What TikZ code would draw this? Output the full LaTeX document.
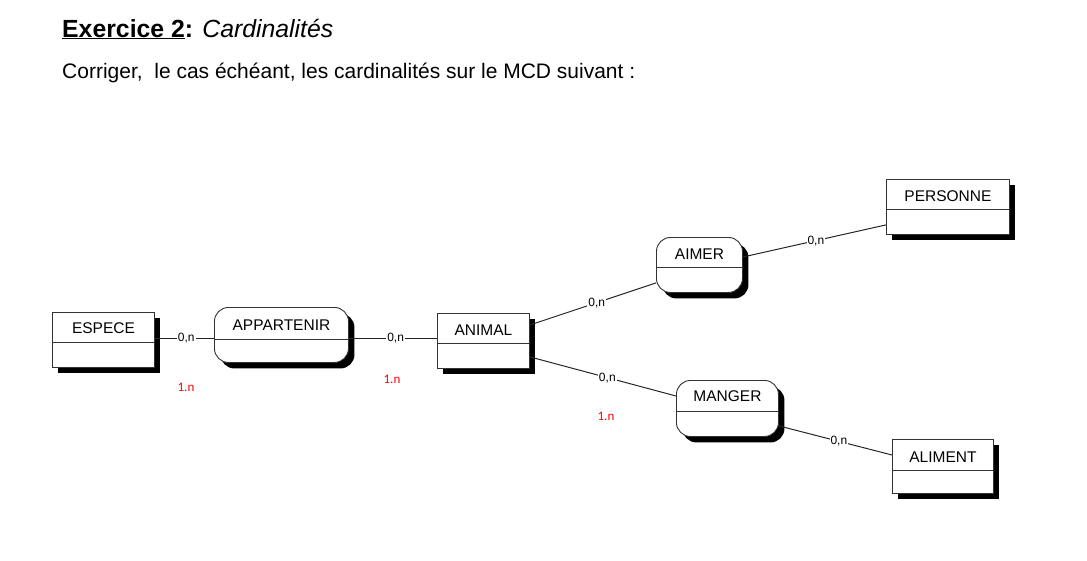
\documentclass[tikz,border=0pt]{standalone}
\usepackage{fontspec}
\setmainfont{Liberation Sans}
\newfontfamily\calib{Carlito}
\usetikzlibrary{shadows,calc}
\begin{document}
\begin{tikzpicture}[x=1pt,y=-1pt,
  box/.style={draw=black!80, line width=0.9pt, fill=white, inner sep=0pt, anchor=north west,
    font=\fontsize{15.5}{18}\selectfont,
    drop shadow={shadow xshift=6pt,shadow yshift=-6pt,fill=black,opacity=1}},
  entity/.style={box},
  relation/.style={box, rounded corners=14pt},
  card/.style={fill=white, inner sep=1pt, font=\fontsize{12}{13}\selectfont, pos=0.53},
  fix/.style={text=red, inner sep=0pt, font=\calib\fontsize{13}{14}\selectfont},
  link/.style={draw=black!85, line width=1pt},
  hline/.style={draw=black!80, line width=0.9pt}
]
\useasboundingbox (0,0) rectangle (1087,560);

\node[anchor=base west, inner sep=0pt, font=\fontsize{24.8}{28}\selectfont] (title) at (62,37)
  {\textbf{\underline{Exercice 2}:} \textit{Cardinalités}};
\node[anchor=base west, inner sep=0pt, font=\fontsize{21}{24}\selectfont] (sub) at (62,78)
  {Corriger,\ \ le cas échéant, les cardinalités sur le MCD suivant :};

\node[entity, minimum width=102, text height=21, text depth=34] (espece) at (52,312) {ESPECE};
\node[relation, minimum width=134, text height=23, text depth=32] (appartenir) at (214,307) {APPARTENIR};
\node[entity, minimum width=92, text height=22, text depth=33] (animal) at (437,313) {ANIMAL};
\node[relation, minimum width=86, text height=22, text depth=33] (aimer) at (656,237) {AIMER};
\node[relation, minimum width=102, text height=21, text depth=35] (manger) at (676,380) {MANGER};
\node[entity, minimum width=123, text height=22, text depth=33] (personne) at (886,179) {PERSONNE};
\node[entity, minimum width=101, text height=23, text depth=31] (aliment) at (892,439) {ALIMENT};

\draw[hline] ([yshift=-30pt]espece.north west) -- ([yshift=-30pt]espece.north east);
\draw[hline] ([yshift=-32pt]appartenir.north west) -- ([yshift=-32pt]appartenir.north east);
\draw[hline] ([yshift=-30pt]animal.north west) -- ([yshift=-30pt]animal.north east);
\draw[hline] ([yshift=-30pt]aimer.north west) -- ([yshift=-30pt]aimer.north east);
\draw[hline] ([yshift=-31pt]manger.north west) -- ([yshift=-31pt]manger.north east);
\draw[hline] ([yshift=-30pt]personne.north west) -- ([yshift=-30pt]personne.north east);
\draw[hline] ([yshift=-31pt]aliment.north west) -- ([yshift=-31pt]aliment.north east);

\draw[link] ([yshift=1.5pt]espece.east) -- ([yshift=1.5pt]espece.east -| appartenir.west) node[card] {0,n};
\draw[link] ([yshift=-3.5pt]appartenir.east) -- ([yshift=-3.5pt]appartenir.east -| animal.west) node[card] {0,n};
\draw[link] ([yshift=-12pt]animal.north east) -- ([yshift=10pt]aimer.south west) node[card] {0,n};
\draw[link] ([yshift=12pt]animal.south east) -- ([yshift=-16pt]manger.north west) node[card] {0,n};
\draw[link] ([yshift=-20pt]aimer.north east) -- ([yshift=10pt]personne.south west) node[card, pos=0.51] {0,n};
\draw[link] ([yshift=11pt]manger.south east) -- ([yshift=-16pt]aliment.north west) node[card] {0,n};

\node[fix] (f1) at (186,387) {1.n};
\node[fix] (f2) at (392,379) {1.n};
\node[fix] (f3) at (606,416) {1.n};
\end{tikzpicture}
\end{document}
